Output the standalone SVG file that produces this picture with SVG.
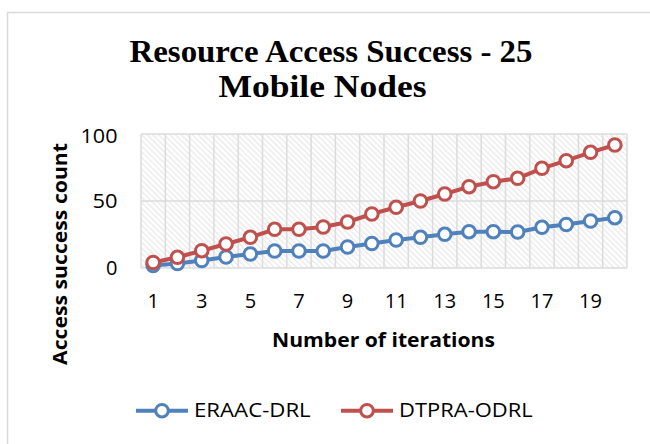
<svg xmlns="http://www.w3.org/2000/svg" width="650" height="444" viewBox="0 0 650 444">
  <style>
    .tick { font-family: "Open Sans", "Liberation Sans", Arial, sans-serif; font-size: 20px; fill: #000; }
    .axt { font-family: "Open Sans", "Liberation Sans", Arial, sans-serif; font-size: 19px; font-weight: bold; fill: #000; }
    .ttl { font-family: "Liberation Serif", "Times New Roman", serif; font-size: 31.5px; font-weight: bold; fill: #000; }
    .leg { font-family: "Open Sans", "Liberation Sans", Arial, sans-serif; font-size: 19.5px; fill: #000; }
    .grid { stroke: #dcdcdc; stroke-width: 1.5; fill: none; }
    .ln-blue { stroke: #4F81BD; stroke-width: 4; fill: none; stroke-linejoin: round; }
    .ln-red { stroke: #C0504D; stroke-width: 4; fill: none; stroke-linejoin: round; }
    .s-blue { marker-start: url(#mk-blue); marker-mid: url(#mk-blue); marker-end: url(#mk-blue); }
    .s-red { marker-start: url(#mk-red); marker-mid: url(#mk-red); marker-end: url(#mk-red); }
    .k-blue { marker-mid: url(#mk-blue); }
    .k-red { marker-mid: url(#mk-red); }
  </style>
  <defs>
    <pattern id="hatch" width="4" height="4" patternUnits="userSpaceOnUse" patternTransform="rotate(-45)">
      <rect width="4" height="4" fill="#ffffff"/>
      <rect width="1.5" height="4" fill="#ebebeb"/>
    </pattern>
    <marker id="mk-blue" viewBox="-9 -9 18 18" markerWidth="18" markerHeight="18" refX="0" refY="0" markerUnits="userSpaceOnUse">
      <circle r="6.3" fill="#ffffff" stroke="#4F81BD" stroke-width="3"/>
    </marker>
    <marker id="mk-red" viewBox="-9 -9 18 18" markerWidth="18" markerHeight="18" refX="0" refY="0" markerUnits="userSpaceOnUse">
      <circle r="6.3" fill="#ffffff" stroke="#C0504D" stroke-width="3"/>
    </marker>
  </defs>

  <!-- chart area -->
  <rect x="0" y="0" width="650" height="444" fill="#ffffff"/>
  <rect x="7.5" y="12.5" width="660" height="460" fill="#ffffff" stroke="#d9d9d9" stroke-width="1.5"/>

  <!-- title -->
  <g id="title">
    <text class="ttl" x="129.5" y="61.7" textLength="403" lengthAdjust="spacingAndGlyphs">Resource Access Success - 25</text>
    <text class="ttl" x="218.5" y="96.7" textLength="208" lengthAdjust="spacingAndGlyphs">Mobile Nodes</text>
  </g>

  <!-- plot area -->
  <g id="plot">
    <rect x="141" y="134" width="486" height="134" fill="url(#hatch)"/>
    <path class="grid" d="M141 134H627M141 201H627M141 268H627
      M141 134V268M165.3 134V268M189.6 134V268M213.9 134V268M238.2 134V268M262.5 134V268M286.8 134V268
      M311.1 134V268M335.4 134V268M359.7 134V268M384 134V268M408.3 134V268M432.6 134V268M456.9 134V268
      M481.2 134V268M505.5 134V268M529.8 134V268M554.1 134V268M578.4 134V268M602.7 134V268M627 134V268"/>
  </g>

  <!-- y axis -->
  <g id="y-axis">
    <text class="tick" x="117.5" y="143.3" text-anchor="end" textLength="37" lengthAdjust="spacingAndGlyphs">100</text>
    <text class="tick" x="117.5" y="208.3" text-anchor="end" textLength="25" lengthAdjust="spacingAndGlyphs">50</text>
    <text class="tick" x="117.5" y="275.3" text-anchor="end">0</text>
    <text class="axt" transform="translate(66.5 254) rotate(-90)" text-anchor="middle" textLength="222" lengthAdjust="spacingAndGlyphs">Access success count</text>
  </g>

  <!-- x axis -->
  <g id="x-axis">
    <text class="tick" x="153.15" y="308" text-anchor="middle">1</text>
    <text class="tick" x="201.75" y="308" text-anchor="middle">3</text>
    <text class="tick" x="250.35" y="308" text-anchor="middle">5</text>
    <text class="tick" x="298.95" y="308" text-anchor="middle">7</text>
    <text class="tick" x="347.55" y="308" text-anchor="middle">9</text>
    <text class="tick" x="396.15" y="308" text-anchor="middle">11</text>
    <text class="tick" x="444.75" y="308" text-anchor="middle">13</text>
    <text class="tick" x="493.35" y="308" text-anchor="middle">15</text>
    <text class="tick" x="541.95" y="308" text-anchor="middle">17</text>
    <text class="tick" x="590.55" y="308" text-anchor="middle">19</text>
    <text class="axt" x="383.5" y="347" text-anchor="middle" textLength="223" lengthAdjust="spacingAndGlyphs">Number of iterations</text>
  </g>

  <!-- data series -->
  <g id="series">
    <polyline id="eraac-drl" class="ln-blue s-blue" points="153.15,265.5 177.45,263.5 201.75,260.5 226.05,257 250.35,254 274.65,251 298.95,251 323.25,251 347.55,247 371.85,243.5 396.15,240 420.45,237.3 444.75,234.3 469.05,231.7 493.35,231.7 517.65,232 541.95,227.3 566.25,224.5 590.55,221 614.85,217.7"/>
    <polyline id="dtpra-odrl" class="ln-red s-red" points="153.15,262.5 177.45,257.3 201.75,250.7 226.05,244 250.35,237.3 274.65,229.3 298.95,229.3 323.25,227 347.55,222 371.85,214 396.15,207.3 420.45,201 444.75,194 469.05,186.7 493.35,181.7 517.65,178.3 541.95,168.3 566.25,160.7 590.55,152.3 614.85,145"/>
  </g>

  <!-- legend -->
  <g id="legend">
    <polyline class="ln-blue k-blue" points="136,410.7 162,410.7 188,410.7"/>
    <text class="leg" x="194" y="417.3" textLength="116.7" lengthAdjust="spacingAndGlyphs">ERAAC-DRL</text>
    <polyline class="ln-red k-red" points="341,410.7 367,410.7 393,410.7"/>
    <text class="leg" x="399" y="417.3" textLength="133.7" lengthAdjust="spacingAndGlyphs">DTPRA-ODRL</text>
  </g>
</svg>
